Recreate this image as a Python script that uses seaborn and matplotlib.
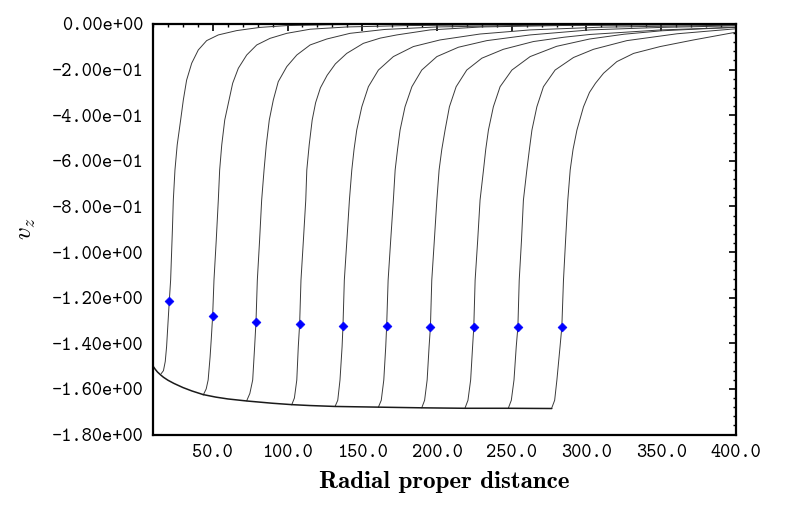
import matplotlib
matplotlib.use("Agg")
import matplotlib.pyplot as plt
from matplotlib.ticker import FixedLocator, MultipleLocator, FormatStrFormatter
import seaborn as sns
import pandas as pd

# lower envelope that every curve starts on
env_x = [10.0, 11.5, 13.0, 15.0, 17.0, 20.0, 24.0, 30.0, 36.0, 43.6, 52.0, 60.0, 72.7,
         90.0, 102.8, 115.0, 131.8, 160.8, 189.8, 218.8, 247.8, 276.8]
env_y = [-1.500, -1.514, -1.526, -1.538, -1.549, -1.562, -1.576, -1.594, -1.609, -1.625,
         -1.636, -1.644, -1.653, -1.663, -1.669, -1.673, -1.677, -1.680, -1.683, -1.685,
         -1.685, -1.686]

# the ten rising curves
c1_x = [15.5, 17.0, 18.2, 19.1, 20.9, 21.8, 23.0, 23.6, 24.7, 26.2, 28.5, 30.3, 32.5, 35.9, 40.3, 45.9, 53.7, 66.0, 81.6, 99.5, 130.0, 180.0, 260.0]
c1_y = [-1.533, -1.52, -1.48, -1.415, -1.215, -1.123, -0.90, -0.772, -0.640, -0.53, -0.421, -0.333, -0.246, -0.172, -0.114, -0.073, -0.048, -0.029, -0.015, -0.007, -0.003, -0.001, 0.0]
c2_x = [43.6, 45.6, 46.9, 48.2, 49.0, 49.9, 50.8, 52.3, 53.7, 54.6, 56.0, 58.0, 60.4, 63.3, 67.1, 72.7, 79.4, 88.3, 99.5, 115.1, 140.0, 180.0, 250.0, 400.0]
c2_y = [-1.627, -1.60, -1.561, -1.46, -1.38, -1.281, -1.123, -0.95, -0.772, -0.640, -0.53, -0.421, -0.348, -0.260, -0.194, -0.136, -0.092, -0.063, -0.041, -0.023, -0.013, -0.007, -0.003, -0.001]
c3_x = [72.7, 74.8, 76.7, 78.0, 78.9, 79.8, 81.3, 82.7, 84.3, 85.8, 87.8, 90.5, 93.8, 99.5, 106.2, 115.1, 126.2, 141.8, 165.0, 200.0, 260.0, 400.0]
c3_y = [-1.652, -1.62, -1.561, -1.415, -1.306, -1.123, -0.95, -0.772, -0.640, -0.53, -0.421, -0.333, -0.253, -0.187, -0.136, -0.092, -0.066, -0.041, -0.024, -0.013, -0.006, -0.002]
c4_x = [102.8, 104.6, 106.2, 107.2, 108.1, 109.0, 110.6, 112.2, 112.9, 114.5, 116.5, 118.8, 122.0, 126.5, 132.0, 139.6, 150.7, 162.0, 173.1, 195.4, 230.0, 290.0, 400.0]
c4_y = [-1.670, -1.64, -1.561, -1.415, -1.316, -1.123, -0.95, -0.772, -0.640, -0.53, -0.421, -0.345, -0.280, -0.225, -0.175, -0.129, -0.085, -0.062, -0.048, -0.026, -0.013, -0.006, -0.002]
c5_x = [131.8, 133.6, 135.1, 136.5, 137.1, 138.0, 139.7, 141.4, 143.0, 144.5, 146.3, 149.7, 154.1, 160.8, 170.8, 184.2, 202.0, 228.8, 262.3, 310.0, 400.0]
c5_y = [-1.677, -1.65, -1.561, -1.415, -1.323, -1.123, -0.95, -0.772, -0.640, -0.55, -0.465, -0.363, -0.275, -0.202, -0.143, -0.099, -0.070, -0.044, -0.026, -0.014, -0.005]
c6_x = [160.8, 162.7, 164.4, 165.7, 166.3, 167.3, 169.0, 170.8, 172.0, 173.6, 175.3, 178.6, 183.2, 189.8, 199.9, 214.3, 233.3, 262.3, 302.3, 350.0, 400.0]
c6_y = [-1.680, -1.65, -1.561, -1.415, -1.326, -1.123, -0.95, -0.772, -0.640, -0.55, -0.465, -0.363, -0.275, -0.202, -0.143, -0.102, -0.073, -0.048, -0.026, -0.015, -0.008]
c7_x = [189.8, 191.7, 193.4, 194.7, 195.6, 196.5, 198.2, 199.9, 201.4, 203.2, 205.4, 208.3, 212.8, 219.9, 230.0, 244.4, 264.5, 285.0, 302.3, 350.0, 400.0]
c7_y = [-1.683, -1.65, -1.561, -1.415, -1.327, -1.123, -0.95, -0.772, -0.640, -0.55, -0.465, -0.363, -0.275, -0.202, -0.150, -0.111, -0.077, -0.058, -0.046, -0.026, -0.015]
c8_x = [218.8, 220.7, 222.5, 223.8, 224.6, 225.5, 227.2, 228.8, 231.1, 232.6, 234.4, 237.7, 242.2, 250.1, 262.3, 280.0, 302.0, 325.0, 350.0, 400.0]
c8_y = [-1.683, -1.65, -1.561, -1.415, -1.329, -1.123, -0.95, -0.772, -0.640, -0.55, -0.465, -0.363, -0.275, -0.202, -0.143, -0.098, -0.066, -0.045, -0.030, -0.014]
c9_x = [247.8, 249.7, 251.5, 253.0, 254.1, 255.0, 256.5, 257.8, 260.1, 261.8, 263.5, 266.8, 271.2, 279.0, 291.3, 304.7, 327.0, 360.5, 400.0]
c9_y = [-1.683, -1.65, -1.561, -1.415, -1.329, -1.123, -0.95, -0.772, -0.640, -0.55, -0.465, -0.363, -0.275, -0.202, -0.147, -0.111, -0.073, -0.043, -0.021]
c10_x = [276.8, 278.7, 280.2, 282.3, 283.5, 284.6, 286.0, 287.5, 289.1, 291.0, 293.6, 298.0, 302.0, 306.0, 311.4, 320.3, 331.5, 349.3, 371.6, 400.0]
c10_y = [-1.683, -1.65, -1.561, -1.415, -1.329, -1.123, -0.95, -0.772, -0.640, -0.55, -0.465, -0.363, -0.300, -0.260, -0.216, -0.165, -0.129, -0.099, -0.070, -0.036]

# blue diamonds
mark_x = [20.9, 49.9, 78.9, 108.1, 137.1, 166.3, 195.6, 224.6, 254.1, 283.5]
mark_y = [-1.215, -1.281, -1.306, -1.316, -1.323, -1.326, -1.327, -1.329, -1.329, -1.329]

x_ticks = [50.0, 100.0, 150.0, 200.0, 250.0, 300.0, 350.0, 400.0]
y_ticks = [0.0, -0.2, -0.4, -0.6, -0.8, -1.0, -1.2, -1.4, -1.6, -1.8]

curves_x = [c1_x, c2_x, c3_x, c4_x, c5_x, c6_x, c7_x, c8_x, c9_x, c10_x]
curves_y = [c1_y, c2_y, c3_y, c4_y, c5_y, c6_y, c7_y, c8_y, c9_y, c10_y]

rows = []
for i, (xs, ys) in enumerate(zip(curves_x, curves_y)):
    for xv, yv in zip(xs, ys):
        rows.append((i, xv, yv))
df = pd.DataFrame(rows, columns=["curve", "r", "vz"])
env = pd.DataFrame({"r": env_x, "vz": env_y})
marks = pd.DataFrame({"r": mark_x, "vz": mark_y})

sns.set_theme(style="white")
plt.rcParams["axes.unicode_minus"] = False
plt.rcParams["mathtext.fontset"] = "cm"

fig = plt.figure(figsize=(7.89, 5.19), dpi=100)
ax = fig.add_axes([0.1939, 0.1628, 0.7389, 0.7910])

sns.lineplot(data=df, x="r", y="vz", units="curve", estimator=None, sort=False,
             color="#3a3a3a", lw=0.7, ax=ax, legend=False)
sns.lineplot(data=env, x="r", y="vz", estimator=None, sort=False,
             color="#1a1a1a", lw=1.1, ax=ax)
sns.scatterplot(data=marks, x="r", y="vz", marker="D", s=20, color="#0000ff",
                edgecolor="#0000ff", linewidth=0.5, ax=ax, zorder=5)

ax.set_xlim(10, 400)
ax.set_ylim(-1.8, 0.0)
ax.xaxis.set_major_locator(FixedLocator(x_ticks))
ax.yaxis.set_major_locator(FixedLocator(y_ticks))
ax.xaxis.set_minor_locator(MultipleLocator(10))
ax.yaxis.set_minor_locator(MultipleLocator(0.04))
ax.xaxis.set_major_formatter(FormatStrFormatter("%.1f"))
ax.yaxis.set_major_formatter(FormatStrFormatter("%.2e"))

ax.tick_params(which="both", direction="in", top=True, right=True, color="black")
ax.tick_params(which="major", length=5, width=1.2, pad=7)
ax.tick_params(which="minor", length=2.5, width=1.0)
for lab in ax.get_xticklabels() + ax.get_yticklabels():
    lab.set_fontfamily("cmtt10")
    lab.set_fontsize(14)
    lab.set_color("black")
for sp in ax.spines.values():
    sp.set_linewidth(1.6)
    sp.set_color("black")

ax.set_xlabel("Radial proper distance", fontfamily="cmb10", fontsize=18,
              color="black", labelpad=6)
ax.set_ylabel(r"$v_z$", fontsize=18, color="black", labelpad=10)

fig.savefig("out.png", dpi=100)
